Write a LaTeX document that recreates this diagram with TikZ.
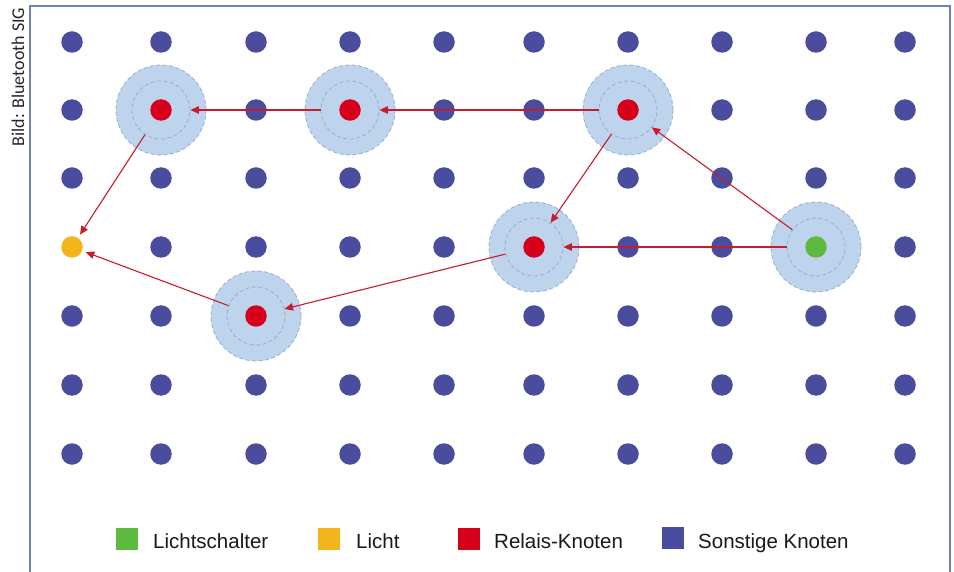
\documentclass[tikz,border=0pt]{standalone}
\usepackage{fontspec}
\setmainfont{Liberation Sans}
\newfontfamily\creditfont{Carlito}
\usetikzlibrary{arrows.meta}

\definecolor{dotblue}{RGB}{74,77,158}
\definecolor{relayred}{RGB}{214,0,28}
\definecolor{switchgreen}{RGB}{94,186,63}
\definecolor{lampyellow}{RGB}{242,181,27}
\definecolor{halofill}{RGB}{190,212,236}
\definecolor{haloedge}{RGB}{150,174,210}
\definecolor{arrowred}{RGB}{200,28,45}
\definecolor{framecol}{RGB}{110,128,180}

\begin{document}
\begin{tikzpicture}[x=1pt,y=-1pt,
  dot/.style={circle,inner sep=0pt,minimum size=21.5pt,fill=dotblue},
  relay/.style={dot,fill=relayred},
  switchdot/.style={dot,fill=switchgreen},
  lampdot/.style={dot,fill=lampyellow,outer sep=4pt},
  halo/.style={fill=halofill,draw=haloedge,line width=0.8pt,dash pattern=on 4pt off 2.5pt},
  ring/.style={circle,inner sep=0pt,minimum size=58pt,draw=haloedge,line width=0.8pt,dash pattern=on 4pt off 2.5pt},
  hop/.style={draw=arrowred,line width=1.1pt,-{Triangle[length=8.5pt,width=7.5pt]}},
  keybox/.style={rectangle,inner sep=0pt,minimum width=22pt,minimum height=22pt},
  keytext/.style={anchor=base west,inner sep=0pt,font=\fontsize{20.5}{24}\selectfont,text=black!90}]

\useasboundingbox (0,0) rectangle (954,572);
\fill[white] (0,0) rectangle (954,572);

% open frame
\draw[framecol,line width=1.4pt] (30,572) -- (30,6) -- (950,6) -- (950,572);

% credit line
\node[rotate=90,anchor=base,inner sep=0pt,font=\creditfont\fontsize{18}{20}\selectfont,text=black!85]
  (credit) at (24,77) {Bild: Bluetooth SIG};

% radio range of the sending nodes
\foreach \x/\y in {161/110,350/110,628/110,534/247,256/316,816/247}
  \filldraw[halo] (\x,\y) circle[radius=45pt];

% ordinary mesh nodes
\foreach \r/\y/\cols in {1/42/{0,...,9},2/110/{0,2,4,5,7,8,9},3/178/{0,...,9},
                         4/247/{1,2,3,4,6,7,9},5/316/{0,1,3,4,5,6,7,8,9},
                         6/385/{0,...,9},7/454/{0,...,9}}
  \foreach \c in \cols {
    \pgfmathsetmacro\x{{72,161,256,350,444,534,628,722,816,905}[\c]}
    \node[dot] (g-\c-\r) at (\x,\y) {};
  }

% relay nodes, switch and lamp
\node[relay] (r1) at (161,110) {};
\node[relay] (r2) at (350,110) {};
\node[relay] (r3) at (628,110) {};
\node[relay] (r4) at (534,247) {};
\node[relay] (r5) at (256,316) {};
\node[switchdot] (sw) at (816,247) {};
\node[lampdot] (lamp) at (72,247) {};

% inner dashed rings
\foreach \n in {r1,r2,r3,r4,r5,sw}
  \node[ring] (\n-ring) at (\n) {};

% message hops
\draw[hop] (sw-ring) -- (r4-ring);
\draw[hop] (sw-ring) -- (r3-ring);
\draw[hop] (r3-ring) -- (r2-ring);
\draw[hop] (r2-ring) -- (r1-ring);
\draw[hop] (r1-ring) -- (lamp);
\draw[hop] (r3-ring) -- (r4-ring);
\draw[hop] (r4-ring) -- (r5-ring);
\draw[hop] (r5-ring) -- (lamp);

% legend
\node[keybox,fill=switchgreen] (k1) at (126.5,539) {};
\node[keytext] (t1) at (153,548) {Lichtschalter};
\node[keybox,fill=lampyellow] (k2) at (329,539) {};
\node[keytext] (t2) at (356,548) {Licht};
\node[keybox,fill=relayred] (k3) at (469,539) {};
\node[keytext] (t3) at (494,548) {Relais-Knoten};
\node[keybox,fill=dotblue] (k4) at (672.5,538) {};
\node[keytext] (t4) at (698,548) {Sonstige Knoten};
\end{tikzpicture}
\end{document}
